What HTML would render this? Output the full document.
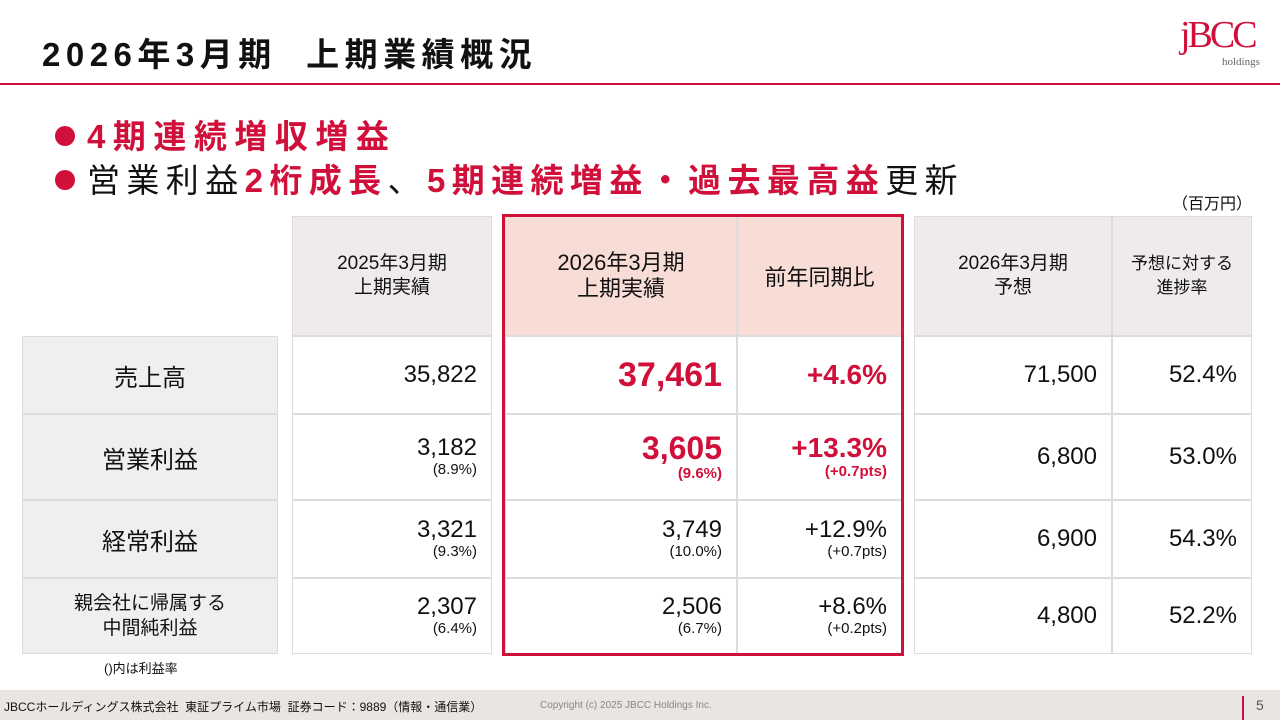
<!DOCTYPE html>
<html><head><meta charset="utf-8"><style>
*{margin:0;padding:0;box-sizing:border-box}
body{width:1280px;height:720px;position:relative;background:#fff;font-family:"Liberation Sans","Noto Sans CJK JP",sans-serif;color:#111;overflow:hidden}
.a{position:absolute}
.c{position:absolute;border:1px solid #dcdcdc;display:flex;flex-direction:column;justify-content:center}
.r{align-items:flex-end;padding-right:14px;text-align:right}
.m{align-items:center;text-align:center}
.h{background:#eeebea}
.lab{background:#efefef;align-items:center;font-size:24px}
.v{font-size:24px;line-height:26px}
.s{font-size:15px;line-height:18px}
.red{color:#d0103a;font-weight:bold}
.dot{display:inline-block;width:20px;height:20px;border-radius:50%;background:#d0103a;margin-right:12px;vertical-align:2px}
</style></head><body>
<div class="a" style="left:42px;top:28px;font-size:33px;font-weight:bold;letter-spacing:5.5px">2026年3月期&nbsp;&nbsp;上期業績概況</div>
<div class="a" style="left:1180px;top:16px;color:#d0103a;font-family:'Liberation Serif',serif;font-size:38px;line-height:38px;letter-spacing:-3px">jBCC</div>
<div class="a" style="left:1222px;top:56px;color:#666;font-family:'Liberation Serif',serif;font-size:11px">holdings</div>
<div class="a" style="left:0;top:83px;width:1280px;height:2px;background:#d0103a"></div>
<div class="a" style="left:55px;top:110px;font-size:33px;font-weight:bold;color:#d0103a;letter-spacing:7.5px"><span class="dot"></span>4期連続増収増益</div>
<div class="a" style="left:55px;top:154px;font-size:33px;letter-spacing:6.4px;white-space:nowrap"><span class="dot"></span>営業利益<b style="color:#d0103a">2桁成長</b>、<b style="color:#d0103a">5期連続増益・過去最高益</b>更新</div>
<div class="a" style="left:1172px;top:190px;font-size:16px">（百万円）</div>

<div class="c h m" style="left:292px;top:216px;width:200px;height:120px;font-size:19px;line-height:24px">2025年3月期<br>上期実績</div>
<div class="c m" style="left:505px;top:216px;width:232px;height:120px;background:#f8dcd6;font-size:22px;line-height:26px">2026年3月期<br>上期実績</div>
<div class="c m" style="left:737px;top:216px;width:165px;height:120px;background:#f8dcd6;font-size:22px">前年同期比</div>
<div class="c h m" style="left:914px;top:216px;width:198px;height:120px;font-size:19px;line-height:24px">2026年3月期<br>予想</div>
<div class="c h m" style="left:1112px;top:216px;width:140px;height:120px;font-size:17px;line-height:24px">予想に対する<br>進捗率</div>

<div class="c lab" style="left:22px;top:336px;width:256px;height:78px">売上高</div>
<div class="c lab" style="left:22px;top:414px;width:256px;height:86px">営業利益</div>
<div class="c lab" style="left:22px;top:500px;width:256px;height:78px">経常利益</div>
<div class="c lab" style="left:22px;top:578px;width:256px;height:76px;font-size:19px;line-height:25px;text-align:center">親会社に帰属する<br>中間純利益</div>

<div class="c r" style="left:292px;top:336px;width:200px;height:78px"><div class="v">35,822</div></div>
<div class="c r" style="left:292px;top:414px;width:200px;height:86px"><div class="v">3,182</div><div class="s">(8.9%)</div></div>
<div class="c r" style="left:292px;top:500px;width:200px;height:78px"><div class="v">3,321</div><div class="s">(9.3%)</div></div>
<div class="c r" style="left:292px;top:578px;width:200px;height:76px"><div class="v">2,307</div><div class="s">(6.4%)</div></div>

<div class="c r" style="left:505px;top:336px;width:232px;height:78px"><div class="red" style="font-size:34px">37,461</div></div>
<div class="c r" style="left:505px;top:414px;width:232px;height:86px"><div class="red" style="font-size:32px;line-height:34px">3,605</div><div class="s red">(9.6%)</div></div>
<div class="c r" style="left:505px;top:500px;width:232px;height:78px"><div class="v">3,749</div><div class="s">(10.0%)</div></div>
<div class="c r" style="left:505px;top:578px;width:232px;height:76px"><div class="v">2,506</div><div class="s">(6.7%)</div></div>

<div class="c r" style="left:737px;top:336px;width:165px;height:78px"><div class="red" style="font-size:28px">+4.6%</div></div>
<div class="c r" style="left:737px;top:414px;width:165px;height:86px"><div class="red" style="font-size:28px;line-height:30px">+13.3%</div><div class="s red">(+0.7pts)</div></div>
<div class="c r" style="left:737px;top:500px;width:165px;height:78px"><div class="v">+12.9%</div><div class="s">(+0.7pts)</div></div>
<div class="c r" style="left:737px;top:578px;width:165px;height:76px"><div class="v">+8.6%</div><div class="s">(+0.2pts)</div></div>

<div class="a" style="left:502px;top:214px;width:402px;height:442px;border:3px solid #d0103a"></div>

<div class="c r" style="left:914px;top:336px;width:198px;height:78px"><div class="v">71,500</div></div>
<div class="c r" style="left:914px;top:414px;width:198px;height:86px"><div class="v">6,800</div></div>
<div class="c r" style="left:914px;top:500px;width:198px;height:78px"><div class="v">6,900</div></div>
<div class="c r" style="left:914px;top:578px;width:198px;height:76px"><div class="v">4,800</div></div>
<div class="c r" style="left:1112px;top:336px;width:140px;height:78px"><div class="v">52.4%</div></div>
<div class="c r" style="left:1112px;top:414px;width:140px;height:86px"><div class="v">53.0%</div></div>
<div class="c r" style="left:1112px;top:500px;width:140px;height:78px"><div class="v">54.3%</div></div>
<div class="c r" style="left:1112px;top:578px;width:140px;height:76px"><div class="v">52.2%</div></div>

<div class="a" style="left:104px;top:658px;font-size:13px">()内は利益率</div>
<div class="a" style="left:0;top:690px;width:1280px;height:30px;background:#e9e5e3"></div>
<div class="a" style="left:4px;top:698px;font-size:12px">JBCCホールディングス株式会社&nbsp; 東証プライム市場&nbsp; 証券コード：9889（情報・通信業）</div>
<div class="a" style="left:540px;top:700px;font-size:10px;color:#888">Copyright (c) 2025 JBCC Holdings Inc.</div>
<div class="a" style="left:1242px;top:696px;width:2px;height:24px;background:#d0103a"></div>
<div class="a" style="left:1256px;top:697px;font-size:14px;color:#555">5</div>
</body></html>
